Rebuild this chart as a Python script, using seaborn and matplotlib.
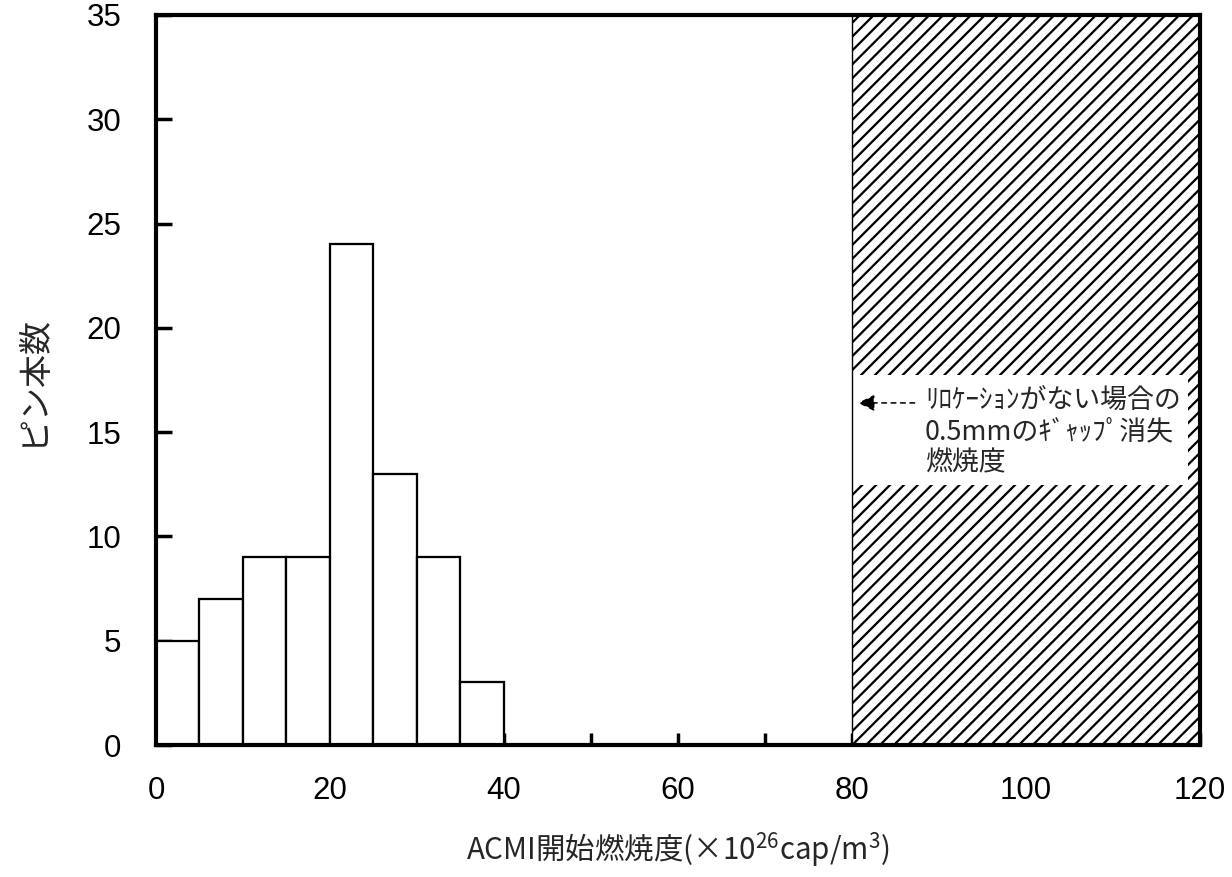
import matplotlib
matplotlib.use("Agg")
import matplotlib.pyplot as plt
from matplotlib.patches import Rectangle
import numpy as np
import pandas as pd
import seaborn as sns

# Histogram of ACMI onset burnup (bins of 5 x 10^26 cap/m^3)
bin_edges = [0, 5, 10, 15, 20, 25, 30, 35, 40]
pin_counts = [5, 7, 9, 9, 24, 13, 9, 3]

# Burnup at which the 0.5 mm gap closes without relocation
gap_closure_burnup = 80
x_max = 120
y_max = 35
x_ticks = [0, 20, 40, 60, 80, 100, 120]
y_ticks = [0, 5, 10, 15, 20, 25, 30, 35]

note_text = "ﾘﾛｹｰｼｮﾝがない場合の\n0.5mmのｷﾞｬｯﾌﾟ消失\n燃焼度"
x_label = "ACMI開始燃焼度(×10$^{26}$cap/m$^{3}$)"
y_label = "ピン本数"

sns.set_theme(style="white")
plt.rcParams["font.family"] = ["Liberation Sans", "Noto Sans CJK JP", "DejaVu Sans"]
# mathtext is only used by the x label; give it a font with kanji
plt.rcParams["mathtext.fontset"] = "custom"
plt.rcParams["mathtext.rm"] = "Noto Sans CJK JP"
plt.rcParams["mathtext.it"] = "Noto Sans CJK JP"
plt.rcParams["hatch.linewidth"] = 1.3

DPI = 125
fig = plt.figure(figsize=(1232 / DPI, 877 / DPI), dpi=DPI)
ax = fig.add_axes([0.1266, 0.1505, 0.8474, 0.8325])

df = pd.DataFrame({
    "burnup": [(a + b) / 2 for a, b in zip(bin_edges[:-1], bin_edges[1:])],
    "count": pin_counts,
})
sns.histplot(data=df, x="burnup", weights="count", bins=bin_edges,
             color="white", edgecolor="black", linewidth=1.3, alpha=1,
             ax=ax)

# Hatched region beyond the gap-closure burnup
ax.add_patch(Rectangle((gap_closure_burnup, 0), x_max - gap_closure_burnup, y_max,
                       facecolor="white", edgecolor="black", hatch="///",
                       linewidth=0, zorder=1))
ax.axvline(gap_closure_burnup, color="black", lw=0.8, zorder=6)

# White note box inside the hatched region
ax.add_patch(Rectangle((80.15, 12.45), 38.5, 5.3, facecolor="white",
                       edgecolor="none", zorder=3))
ax.text(88.4, 17.15, note_text, fontsize=15.5, va="top", ha="left",
        linespacing=1.2, zorder=4,
        family=["Noto Sans CJK JP", "DejaVu Sans"])
ax.annotate("", xy=(80.3, 16.4), xytext=(87.6, 16.4),
            arrowprops=dict(arrowstyle="-|>", linestyle=(0, (3, 3)),
                            color="black", lw=0.9, mutation_scale=20),
            zorder=5)

ax.set_xlim(0, x_max)
ax.set_ylim(0, y_max)
ax.set_xticks(x_ticks)
ax.set_xticks(np.arange(10, x_max, 20), minor=True)
ax.set_yticks(y_ticks)
ax.tick_params(axis="both", which="both", direction="in", labelsize=18,
               width=2, colors="black", bottom=True, left=True,
               top=False, right=False)
ax.tick_params(axis="x", which="both", length=7, pad=18)
ax.tick_params(axis="y", which="major", length=9, pad=20)

for side in ["left", "bottom", "top", "right"]:
    ax.spines[side].set_linewidth(2.4)
    ax.spines[side].set_color("black")

ax.set_xlabel(x_label, fontsize=17, labelpad=14, family="Noto Sans CJK JP")
ax.set_ylabel(y_label, fontsize=19, labelpad=21,
              family=["Noto Sans CJK JP", "DejaVu Sans"])
ax.grid(False)

fig.savefig("out.png", dpi=DPI, facecolor="white")
